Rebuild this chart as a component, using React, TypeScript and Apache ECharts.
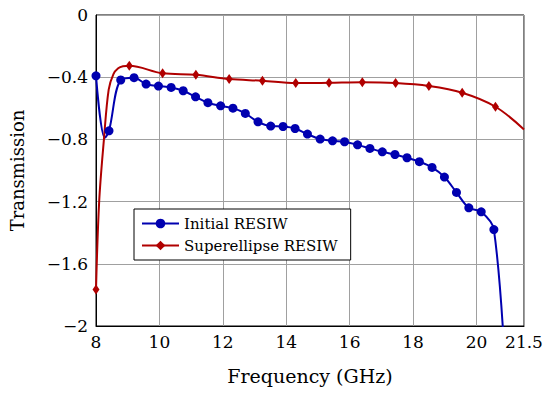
import React, { useEffect, useRef } from "react";
import * as echarts from "echarts";

const blueFreq = [8, 8.28, 8.41, 8.78, 9.2, 9.58, 9.97, 10.37, 10.75, 11.14, 11.53, 11.93, 12.32, 12.71, 13.11, 13.51, 13.9, 14.28, 14.67, 15.07, 15.46, 15.84, 16.25, 16.64, 17.03, 17.43, 17.81, 18.2, 18.6, 18.99, 19.37, 19.76, 20.15, 20.55, 20.94];
const blueVals = [-0.391, -0.79, -0.745, -0.418, -0.403, -0.444, -0.457, -0.466, -0.487, -0.526, -0.564, -0.584, -0.599, -0.633, -0.687, -0.714, -0.717, -0.73, -0.766, -0.798, -0.809, -0.815, -0.835, -0.858, -0.88, -0.897, -0.918, -0.943, -0.98, -1.042, -1.141, -1.24, -1.266, -1.38, -2.4];
const blueMarked = [true, false, true, true, true, true, true, true, true, true, true, true, true, true, true, true, true, true, true, true, true, true, true, true, true, true, true, true, true, true, true, true, true, true, true];

const redFreq = [8, 8.1, 8.25, 8.4, 8.55, 8.7, 8.85, 9.05, 10.1, 11.15, 12.2, 13.25, 14.3, 15.35, 16.4, 17.45, 18.5, 19.55, 20.6, 21.5];
const redVals = [-1.766, -1.2, -0.8, -0.48, -0.38, -0.343, -0.33, -0.327, -0.375, -0.384, -0.412, -0.423, -0.438, -0.436, -0.433, -0.438, -0.457, -0.5, -0.59, -0.736];
const redMarked = [true, false, false, false, false, false, false, true, true, true, true, true, true, true, true, true, true, true, true, false];

const xTicksMin = 8;
const xTicksMax = 21.5;
const yMin = -2;
const yMax = 0;

const seriesNames = ["Initial RESIW", "Superellipse RESIW"];

const BLUE = "#0000b0";
const RED = "#b00000";
const FONT = "DejaVu Serif";

export default function App() {
  const ref = useRef<HTMLDivElement>(null);
  useEffect(() => {
    if (!ref.current) return;
    const chart = echarts.init(ref.current, undefined, { renderer: "svg" });
    const blueData = blueFreq.map((f, i) =>
      blueMarked[i] ? { value: [f, blueVals[i]] } : { value: [f, blueVals[i]], symbol: "none" }
    );
    const redData = redFreq.map((f, i) =>
      redMarked[i] ? { value: [f, redVals[i]] } : { value: [f, redVals[i]], symbol: "none" }
    );
    chart.setOption({
      animation: false,
      backgroundColor: "#fff",
      textStyle: { fontFamily: FONT },
      grid: {
        left: 89,
        top: 15,
        right: 26,
        bottom: 68,
        show: true,
        borderColor: "#000",
        borderWidth: 1,
        backgroundColor: "transparent",
      },
      legend: {
        orient: "vertical",
        left: 134,
        top: 209,
        backgroundColor: "#fff",
        borderColor: "#000",
        borderWidth: 1,
        padding: [7, 13, 7, 7],
        itemWidth: 37,
        itemHeight: 12,
        itemGap: 7,
        textStyle: { fontFamily: FONT, fontSize: 15, color: "#000" },
        data: seriesNames,
      },
      xAxis: {
        type: "value",
        min: xTicksMin,
        max: xTicksMax,
        interval: 2,
        name: "Frequency (GHz)",
        nameLocation: "middle",
        nameGap: 40,
        nameTextStyle: { fontFamily: FONT, fontSize: 19, color: "#000" },
        axisLine: { show: true, onZero: false, lineStyle: { color: "#000", width: 1 } },
        axisTick: { show: false },
        axisLabel: {
          fontFamily: FONT,
          fontSize: 17,
          color: "#000",
          margin: 7,
          showMaxLabel: true,
          showMinLabel: true,
        },
        splitLine: { show: true, lineStyle: { color: "#a0a0a0", width: 1 } },
      },
      yAxis: {
        type: "value",
        min: yMin,
        max: yMax,
        interval: 0.4,
        name: "Transmission",
        nameLocation: "middle",
        nameGap: 70,
        nameTextStyle: { fontFamily: FONT, fontSize: 18, color: "#000" },
        axisLine: { show: true, onZero: false, lineStyle: { color: "#000", width: 1 } },
        axisTick: { show: false },
        axisLabel: {
          fontFamily: FONT,
          fontSize: 17,
          color: "#000",
          margin: 8,
          formatter: (v: number) => {
            const r = Math.round(Math.abs(v) * 10) / 10;
            return (v < -1e-9 ? "\u2212" : "") + String(r);
          },
        },
        splitLine: { show: true, lineStyle: { color: "#a0a0a0", width: 1 } },
      },
      series: [
        {
          name: seriesNames[0],
          type: "line",
          data: blueData,
          smooth: 0.35,
          clip: true,
          symbol: "circle",
          symbolSize: 9,
          showAllSymbol: true,
          lineStyle: { color: BLUE, width: 2 },
          itemStyle: { color: BLUE },
        },
        {
          name: seriesNames[1],
          type: "line",
          data: redData,
          smooth: 0.35,
          clip: true,
          symbol: "diamond",
          symbolSize: [7, 10],
          showAllSymbol: true,
          lineStyle: { color: RED, width: 2 },
          itemStyle: { color: RED },
        },
      ],
    });
    return () => chart.dispose();
  }, []);
  return (
    <div
      ref={ref}
      style={{ position: "fixed", left: 0, top: 0, width: 550, height: 394 }}
    />
  );
}
